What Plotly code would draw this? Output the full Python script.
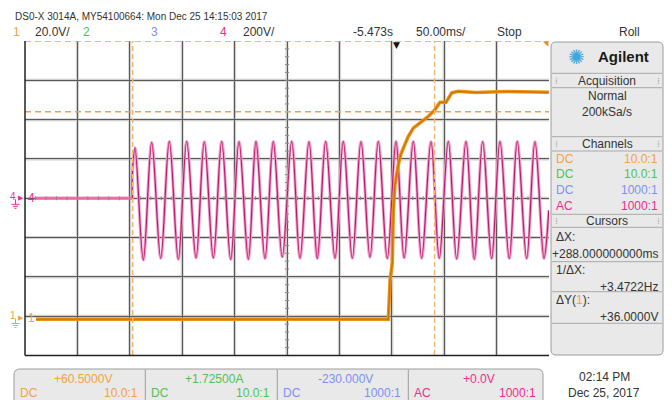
import plotly.graph_objects as go

# ---- data (time in ms from left edge, volts) ----
ch1_t = [10.5, 346.7, 348.3, 350.5, 351.4, 353.0, 356.2, 358.5, 361.0, 365.7, 370.5,
         378.5, 384.8, 391.2, 396.0, 401.7, 407.2, 413.4, 430.0, 460.0, 499.8]
ch1_v = [-1.0, -1.0, 18.8, 27.5, 53.0, 67.3, 77.5, 82.6, 86.0, 91.9, 96.2,
         99.6, 102.1, 105.6, 109.3, 109.3, 114.1, 114.9, 114.3, 114.8, 114.4]

ch4_flat_t = [10.5, 102.4]
ch4_flat_v = [0, 0]

ch4_t = [102.4, 102.6, 105.0, 112.9, 120.9, 129.5, 137.7, 146.3, 154.3, 163.2, 171.1,
         179.7, 187.7, 196.3, 204.2, 213.1, 220.4, 229.0, 236.9, 245.5, 254.5,
         262.4, 271.0, 278.9, 286.9, 295.8, 303.7, 312.3, 320.6, 329.2, 337.1,
         345.7, 354.0, 361.8, 370.5, 378.5, 387.4, 395.3, 403.9, 411.9, 420.8,
         428.7, 436.7, 445.3, 453.2, 462.1, 469.7, 478.7, 486.6, 495.2, 499.8]
ch4_v = [0, 140, 257, -314, 284, -305, 289, -310, 289, -303, 287,
         -303, 289, -311, 288, -310, 289, -306, 289, -298, 289,
         -305, 288, -306, 289, -305, 289, -305, 288, -300, 289,
         -306, 289, -303, 289, -305, 288, -305, 289, -308, 289,
         -310, 288, -306, 289, -306, 289, -306, 288, -306, -61]

cursor_x1, cursor_x2 = 102.8, 390.8      # ms
cursor_y1, cursor_y2 = 140.5, 104.5      # V on channel 1

ch1_range = [-19.5, 140.5]   # 20 V/div, offset +60.5 V
ch4_range = [-800, 800]      # 200 V/div

ORANGE = '#f5a23c'
ORANGE_DK = '#c97400'
GREEN = '#4fc24f'
BLUE = '#7d8ff0'
PINK = '#ee2d8c'
PINK_DK = '#c4146e'
FONT = 'Liberation Sans'

W, H = 672, 400


def px(x):
    return x / W


def py(y):
    return 1 - y / H


fig = go.Figure()

# channel 4 (mains voltage)
fig.add_trace(go.Scatter(x=ch4_flat_t, y=ch4_flat_v, mode='lines',
                         line=dict(color='#f06aa8', width=3), hoverinfo='skip'))
fig.add_trace(go.Scatter(x=ch4_t, y=ch4_v, mode='lines',
                         line=dict(color='#eba0c6', width=3, shape='spline', smoothing=1),
                         hoverinfo='skip'))
fig.add_trace(go.Scatter(x=ch4_t, y=ch4_v, mode='lines',
                         line=dict(color=PINK_DK, width=1.2, shape='spline', smoothing=1),
                         hoverinfo='skip'))
# channel 1
fig.add_trace(go.Scatter(x=ch1_t, y=ch1_v, mode='lines', yaxis='y2',
                         line=dict(color='#eb9418', width=3.5), hoverinfo='skip'))
fig.add_trace(go.Scatter(x=ch1_t, y=ch1_v, mode='lines', yaxis='y2',
                         line=dict(color=ORANGE_DK, width=1.2), hoverinfo='skip'))

shapes = []
annotations = []


def txt(x, y, s, color='#333333', size=12, anchor='left', bold=False, family=FONT):
    annotations.append(dict(
        x=px(x), y=py(y), xref='paper', yref='paper', text=f'<b>{s}</b>' if bold else s,
        showarrow=False, xanchor=anchor, yanchor='middle',
        font=dict(family=family, size=size, color=color)))


def line(x0, y0, x1, y1, color='#9a9a9a', width=1, dash=None):
    shapes.append(dict(type='line', xref='paper', yref='paper',
                       x0=px(x0), y0=py(y0), x1=px(x1), y1=py(y1),
                       line=dict(color=color, width=width, dash=dash)))


def rrect(x0, y0, x1, y1, r, fill, border):
    p = (f'M {px(x0 + r)},{py(y0)} L {px(x1 - r)},{py(y0)} '
         f'Q {px(x1)},{py(y0)} {px(x1)},{py(y0 + r)} L {px(x1)},{py(y1 - r)} '
         f'Q {px(x1)},{py(y1)} {px(x1 - r)},{py(y1)} L {px(x0 + r)},{py(y1)} '
         f'Q {px(x0)},{py(y1)} {px(x0)},{py(y1 - r)} L {px(x0)},{py(y0 + r)} '
         f'Q {px(x0)},{py(y0)} {px(x0 + r)},{py(y0)} Z')
    shapes.append(dict(type='path', path=p, xref='paper', yref='paper',
                       fillcolor=fill, line=dict(color=border, width=1), layer='below'))


# soft halo under the grid lines
for t in range(50, 500, 50):
    shapes.append(dict(type='line', xref='x', yref='paper', x0=t, x1=t,
                       y0=py(355), y1=py(41), layer='below',
                       line=dict(color='#cfcfcf', width=3)))
for v in range(-600, 800, 200):
    shapes.append(dict(type='line', xref='paper', yref='y', x0=px(25), x1=px(549),
                       y0=v, y1=v, layer='below',
                       line=dict(color='#cfcfcf', width=3)))

# minor ticks on centre lines
for i in range(1, 50):
    shapes.append(dict(type='line', xref='x', yref='y', x0=i * 10, x1=i * 10,
                       y0=-10, y1=10, line=dict(color='#8a8a8a', width=1)))
for i in range(-19, 20):
    shapes.append(dict(type='line', xref='x', yref='y', x0=248, x1=252,
                       y0=i * 40, y1=i * 40, line=dict(color='#8a8a8a', width=1)))

# cursors
for cx in (cursor_x1, cursor_x2):
    shapes.append(dict(type='line', xref='x', yref='paper', x0=cx, x1=cx,
                       y0=py(355), y1=py(41),
                       line=dict(color='#f7b56e', width=1.5, dash='5px,3px')))
for cy in (cursor_y1, cursor_y2):
    shapes.append(dict(type='line', xref='paper', yref='y2', x0=px(25), x1=px(549),
                       y0=cy, y1=cy,
                       line=dict(color='#f3a04a', width=1.5, dash='6px,4px')))

# plot border (left, bottom)
line(25, 41, 25, 355.5, color='#222222', width=1.5)
line(25, 355.5, 549, 355.5, color='#222222', width=1.5)

# header
txt(13, 16.5, 'DS0-X 3014A, MY54100664: Mon Dec 25 14:15:03 2017', size=10)
txt(16.5, 32, '1', ORANGE, 12, 'center')
txt(33, 32, '20.0V/', '#333333', 12)
txt(86, 32, '2', GREEN, 12, 'center')
txt(154, 32, '3', BLUE, 12, 'center')
txt(223, 32, '4', PINK, 12, 'center')
txt(241, 32, '200V/', '#333333', 12)
txt(373, 32, '-5.473s', '#333333', 12, 'center')
txt(441, 32, '50.00ms/', '#333333', 12, 'center')
txt(509, 32, 'Stop', '#333333', 12, 'center')
txt(629, 32, 'Roll', '#333333', 12, 'center')

# trigger and level markers
txt(396, 45, '▼', '#111111', 9, 'center', family='DejaVu Sans')
txt(546, 44, '◥', '#e88a10', 7, 'center', family='DejaVu Sans')

# ground markers
for gy, label, col in ((198.3, '4', PINK), (317.5, '1', ORANGE)):
    txt(13, gy - 2, label, col, 10, 'center')
    txt(21, gy, '▶', col, 7, 'center', family='DejaVu Sans')
    txt(31, gy, label, col, 12, 'center')
    line(15.5, gy + 1, 15.5, gy + 6, col, 1)
    line(11.5, gy + 6, 19.5, gy + 6, col, 1)
    line(13, gy + 8, 18, gy + 8, col, 1)
    line(14.5, gy + 10, 16.5, gy + 10, col, 1)

# right panel
rrect(551, 42, 663, 355, 5, '#e9e9e9', '#9c9c9c')
for yy in (73.3, 87.7, 136.7, 151, 214.3, 227.3, 261.7, 291.7, 323.3):
    line(552, yy, 662, yy, '#a8a8a8', 1)
txt(576, 57, '✺', '#3ea6dc', 20, 'center', family='DejaVu Sans')
txt(623, 57, 'Agilent', '#1a1a1a', 15, 'center', bold=True)
for hy, head in ((80.5, 'Acquisition'), (143.5, 'Channels'), (221, 'Cursors')):
    txt(607, hy, head, '#333333', 12, 'center')
    txt(556, hy, '⁞', '#aaaaaa', 9, 'center', family='DejaVu Sans')
    txt(658, hy, '⁞', '#aaaaaa', 9, 'center', family='DejaVu Sans')
txt(607, 96, 'Normal', '#333333', 12, 'center')
txt(607, 112, '200kSa/s', '#333333', 12, 'center')
for ry, cp, ratio, col in ((158.5, 'DC', '10.0:1', ORANGE), (174.3, 'DC', '10.0:1', GREEN),
                           (190, 'DC', '1000:1', BLUE), (205.7, 'AC', '1000:1', PINK)):
    txt(554, ry, cp, col, 12)
    txt(660, ry, ratio, col, 12, 'right')
txt(554, 237, 'ΔX:', '#333333', 12)
txt(660, 253.5, '+288.000000000ms', '#333333', 12, 'right')
txt(554, 270, '1/ΔX:', '#333333', 12)
txt(660, 286.5, '+3.4722Hz', '#333333', 12, 'right')
txt(554, 299.5, f'ΔY(<span style="color:{ORANGE}">1</span>):', '#333333', 12)
txt(660, 316.5, '+36.0000V', '#333333', 12, 'right')

# bottom channel boxes
rrect(14, 369, 543, 410, 6, '#e9e9e9', '#9c9c9c')
for dx in (145.3, 277.3, 408.3):
    line(dx, 369.5, dx, 400, '#9c9c9c', 1)
for cx0, cx1, top, cp, ratio, col in ((14, 145.3, '+60.5000V', 'DC', '10.0:1', ORANGE),
                                      (145.3, 277.3, '+1.72500A', 'DC', '10.0:1', GREEN),
                                      (277.3, 408.3, '-230.000V', 'DC', '1000:1', BLUE),
                                      (408.3, 543, '+0.0V', 'AC', '1000:1', PINK)):
    txt((cx0 + cx1) / 2 + 3, 378.5, top, col, 12, 'center')
    txt(cx0 + 4, 393, cp, col, 12)
    txt(cx1 - 5, 393, ratio, col, 12, 'right')
txt(604, 377, '02:14 PM', '#333333', 12, 'center')
txt(604, 393, 'Dec 25, 2017', '#333333', 12, 'center')

fig.update_layout(
    width=W, height=H,
    margin=dict(l=0, r=0, t=0, b=0),
    paper_bgcolor='white', plot_bgcolor='white',
    showlegend=False,
    shapes=shapes, annotations=annotations,
    xaxis=dict(range=[0, 500], domain=[px(25), px(549)], dtick=50, showgrid=True,
               gridcolor='#595959', gridwidth=1, zeroline=False, showticklabels=False,
               ticks='', showline=False, fixedrange=True),
    yaxis=dict(range=ch4_range, domain=[py(355.5), py(41)], dtick=200, showgrid=True,
               gridcolor='#595959', gridwidth=1, zeroline=False, showticklabels=False,
               ticks='', showline=False, fixedrange=True),
    yaxis2=dict(range=ch1_range, overlaying='y', showgrid=False, zeroline=False,
                showticklabels=False, ticks='', showline=False, fixedrange=True),
)

# the browser's default body margin would shift the 672x400 figure
fig.write_html("out.html", config={'displayModeBar': False},
               post_script="document.body.style.margin='0';")
